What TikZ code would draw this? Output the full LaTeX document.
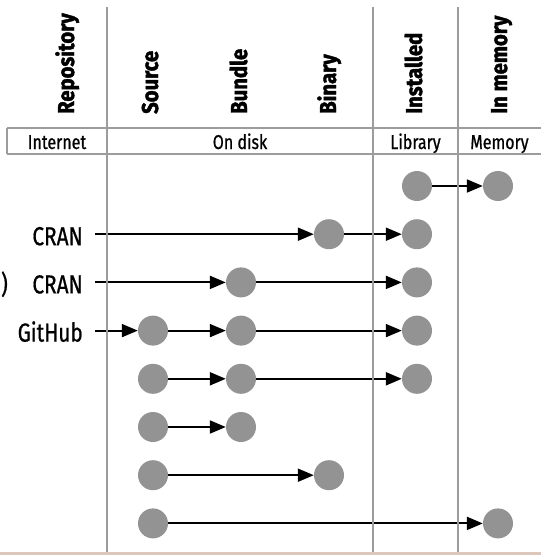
\documentclass[tikz,border=0pt]{standalone}
\usepackage{fontspec}
\setmainfont{Fira Sans}[FakeStretch=0.8,UprightFeatures={FakeBold=0.7}]
\newfontfamily\headfont{Fira Sans}[FakeStretch=0.88,BoldFeatures={FakeBold=1.8}]
\usetikzlibrary{arrows.meta}
\definecolor{dotgray}{HTML}{939393}
\definecolor{gridgray}{HTML}{9C9C9C}
\definecolor{beige}{HTML}{DCC8BB}
\begin{document}
\begin{tikzpicture}[x=1pt,y=-1pt,
  dot/.style={circle,fill=dotgray,minimum size=30pt,inner sep=0pt},
  arr/.style={-{Triangle[length=16pt,width=13pt]},line width=2pt,black},
  gridline/.style={draw=gridgray,line width=1.8pt},
  head/.style={rotate=90,anchor=base west,inner sep=0pt,font=\fontsize{23}{23}\headfont\bfseries},
  band/.style={anchor=base,inner sep=0pt,font=\fontsize{20}{20}\selectfont},
  rowlab/.style={anchor=base east,inner sep=0pt,font=\fontsize{26}{26}\selectfont}]
\useasboundingbox (0,0) rectangle (541,555);
\fill[white] (0,0) rectangle (541,555);
\fill[beige] (0,552) rectangle (541,555);

% column headings
\node[head] (hrep) at (74,114) {Repository};
\node[head] (hsrc) at (158,114) {Source};
\node[head] (hbun) at (247,114) {Bundle};
\node[head] (hbin) at (336,114) {Binary};
\node[head] (hins) at (422,114) {Installed};
\node[head] (hmem) at (507,114) {In memory};

% band labels
\node[band] (bint) at (57,149) {Internet};
\node[band] (bdisk) at (240,149) {On disk};
\node[band] (blib) at (415.5,149) {Library};
\node[band] (bmem) at (499.5,149) {Memory};

% dots
\def\cS{153}\def\cU{241}\def\cB{329}\def\cI{417}\def\cM{498}
\node[dot] (r1i) at (\cI,186) {};
\node[dot] (r1m) at (\cM,186) {};
\node[dot] (r2b) at (\cB,234.2) {};
\node[dot] (r2i) at (\cI,234.2) {};
\node[dot] (r3u) at (\cU,282.4) {};
\node[dot] (r3i) at (\cI,282.4) {};
\node[dot] (r4s) at (\cS,330.6) {};
\node[dot] (r4u) at (\cU,330.6) {};
\node[dot] (r4i) at (\cI,330.6) {};
\node[dot] (r5s) at (\cS,378.8) {};
\node[dot] (r5u) at (\cU,378.8) {};
\node[dot] (r5i) at (\cI,378.8) {};
\node[dot] (r6s) at (\cS,427) {};
\node[dot] (r6u) at (\cU,427) {};
\node[dot] (r7s) at (\cS,475.2) {};
\node[dot] (r7b) at (\cB,475.2) {};
\node[dot] (r8s) at (\cS,523.4) {};
\node[dot] (r8m) at (\cM,523.4) {};

% row labels
\node[rowlab] (l2) at (83,245.2) {CRAN};
\node[rowlab] (l3) at (83,293.4) {CRAN};
\node[rowlab] (lp) at (8,293.4) {)};
\node[rowlab] (l4) at (83,341.6) {GitHub};
\coordinate (s2) at (95,234.2);
\coordinate (s3) at (95,282.4);
\coordinate (s4) at (95,330.6);

% arrows
\draw[arr] (r1i) -- (r1m);
\draw[arr] (s2) -- (r2b);
\draw[arr] (r2b) -- (r2i);
\draw[arr] (s3) -- (r3u);
\draw[arr] (r3u) -- (r3i);
\draw[arr] (s4) -- (r4s);
\draw[arr] (r4s) -- (r4u);
\draw[arr] (r4u) -- (r4i);
\draw[arr] (r5s) -- (r5u);
\draw[arr] (r5u) -- (r5i);
\draw[arr] (r6s) -- (r6u);
\draw[arr] (r7s) -- (r7b);
\draw[arr] (r8s) -- (r8m);

% grid
\draw[gridline] (7,128) -- (545,128) (7,154) -- (545,154) (7,128) -- (7,154);
\draw[gridline] (107,7) -- (107,552);
\draw[gridline] (373,7) -- (373,552);
\draw[gridline] (458,7) -- (458,552);
\end{tikzpicture}
\end{document}
